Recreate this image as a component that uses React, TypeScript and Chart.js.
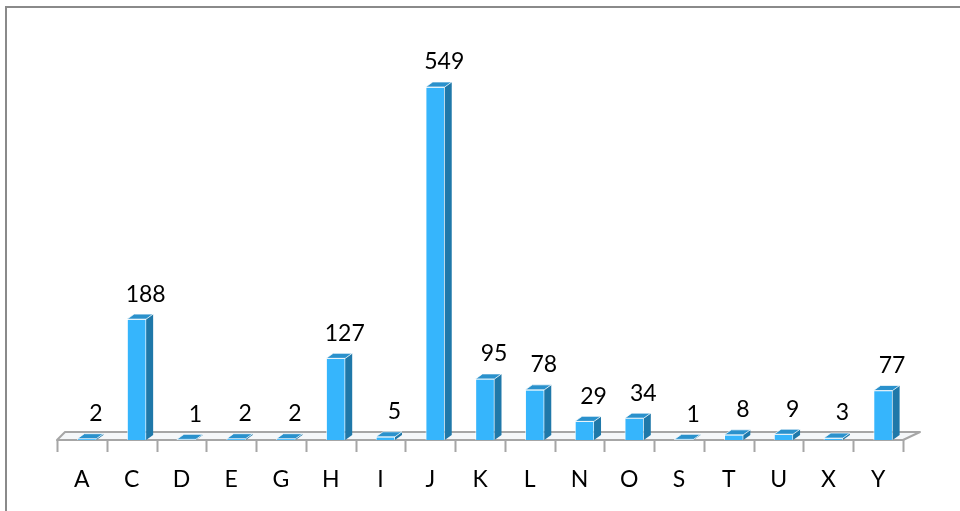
import React, { useEffect, useRef } from 'react';
import { Chart, registerables } from 'chart.js';

Chart.register(...registerables);

const categories: string[] = ['A', 'C', 'D', 'E', 'G', 'H', 'I', 'J', 'K', 'L', 'N', 'O', 'S', 'T', 'U', 'X', 'Y'];
const counts: number[] = [2, 188, 1, 2, 2, 127, 5, 549, 95, 78, 29, 34, 1, 8, 9, 3, 77];

const FONT = 'Lato, "Open Sans", "DejaVu Sans", sans-serif';
const FONT_SIZE = 23;
const FRONT = '#36B5FC';
const SIDE = '#1F78A9';
const TOP = '#2A91CC';
const DX = 7;
const DY = 5;
const SHIFT = 5;
const PLOT_BOTTOM = 440;

const decor = {
  id: 'decor',
  beforeDraw(chart: any) {
    const { ctx, width, height } = chart;
    ctx.save();
    ctx.fillStyle = '#ffffff';
    ctx.fillRect(0, 0, width, height);
    ctx.strokeStyle = '#8a8a8a';
    ctx.lineWidth = 2;
    ctx.beginPath();
    ctx.moveTo(6, height);
    ctx.lineTo(6, 7);
    ctx.lineTo(width, 7);
    ctx.stroke();
    ctx.restore();
  },
  beforeDatasetsDraw(chart: any) {
    const { ctx, chartArea } = chart;
    const { left, right, bottom } = chartArea;
    const xs = chart.scales.x;
    const n = categories.length;
    const w = (right - left) / n;
    const fl = left - SHIFT;
    const fr = right - SHIFT;
    ctx.save();
    // floor
    ctx.beginPath();
    ctx.moveTo(fl, bottom);
    ctx.lineTo(fr, bottom);
    ctx.lineTo(fr + 17, bottom - 8);
    ctx.lineTo(fl + 8, bottom - 8);
    ctx.closePath();
    ctx.fillStyle = '#f5f7f9';
    ctx.fill();
    ctx.strokeStyle = '#a6a6a6';
    ctx.lineWidth = 2;
    ctx.lineJoin = 'round';
    ctx.stroke();
    // tick marks
    ctx.beginPath();
    for (let i = 0; i <= n; i++) {
      const c = i < n ? xs.getPixelForValue(i) - w / 2 : xs.getPixelForValue(n - 1) + w / 2;
      const bx = Math.round(c - SHIFT) + 0.5;
      ctx.moveTo(bx, bottom);
      ctx.lineTo(bx, bottom + 12);
    }
    ctx.lineWidth = 2;
    ctx.strokeStyle = '#a6a6a6';
    ctx.stroke();
    ctx.restore();
  },
  afterDatasetsDraw(chart: any) {
    const { ctx } = chart;
    const meta = chart.getDatasetMeta(0);
    ctx.save();
    meta.data.forEach((el: any, i: number) => {
      const { x, y, base, width } = el.getProps(['x', 'y', 'base', 'width'], true);
      const l = x - width / 2;
      const r = x + width / 2;
      // side face
      ctx.beginPath();
      ctx.moveTo(r, y);
      ctx.lineTo(r + DX, y - DY);
      ctx.lineTo(r + DX, base - DY);
      ctx.lineTo(r, base);
      ctx.closePath();
      ctx.fillStyle = SIDE;
      ctx.fill();
      // top face
      ctx.beginPath();
      ctx.moveTo(l, y);
      ctx.lineTo(l + DX, y - DY);
      ctx.lineTo(r + DX, y - DY);
      ctx.lineTo(r, y);
      ctx.closePath();
      ctx.fillStyle = TOP;
      ctx.fill();
      ctx.strokeStyle = 'rgba(255,255,255,0.7)';
      ctx.lineWidth = 1;
      ctx.stroke();
      // value label
      ctx.fillStyle = '#000000';
      ctx.font = `${FONT_SIZE}px ${FONT}`;
      ctx.textAlign = 'center';
      ctx.textBaseline = 'middle';
      ctx.fillText(String(counts[i]), x + 9, y - 25);
    });
    ctx.restore();
  },
};

export default function App() {
  const ref = useRef<HTMLCanvasElement | null>(null);
  useEffect(() => {
    if (!ref.current) return;
    const chart = new Chart(ref.current, {
      type: 'bar',
      data: {
        labels: categories,
        datasets: [
          {
            data: counts,
            backgroundColor: FRONT,
            borderColor: 'rgba(255,255,255,0.6)',
            borderWidth: 1,
            barThickness: 19,
          },
        ],
      },
      options: {
        responsive: false,
        animation: false,
        events: [],
        layout: { padding: { left: 62, right: 52, top: 54.2, bottom: 0 } },
        plugins: { legend: { display: false }, tooltip: { enabled: false } },
        scales: {
          x: {
            offset: true,
            grid: { display: false, drawTicks: false },
            border: { display: false },
            afterFit: (scale: any) => {
              scale.height = 511 - PLOT_BOTTOM;
            },
            ticks: {
              font: { family: FONT, size: FONT_SIZE },
              color: '#000000',
              padding: 26,
              labelOffset: -SHIFT,
              autoSkip: false,
              maxRotation: 0,
              minRotation: 0,
            },
          },
          y: { display: false, min: 0, max: 600 },
        },
      },
      plugins: [decor],
    });
    return () => chart.destroy();
  }, []);
  return (
    <div style={{ position: 'fixed', left: 0, top: 0, width: 960, height: 511 }}>
      <canvas ref={ref} width={960} height={511} style={{ display: 'block' }} />
    </div>
  );
}
